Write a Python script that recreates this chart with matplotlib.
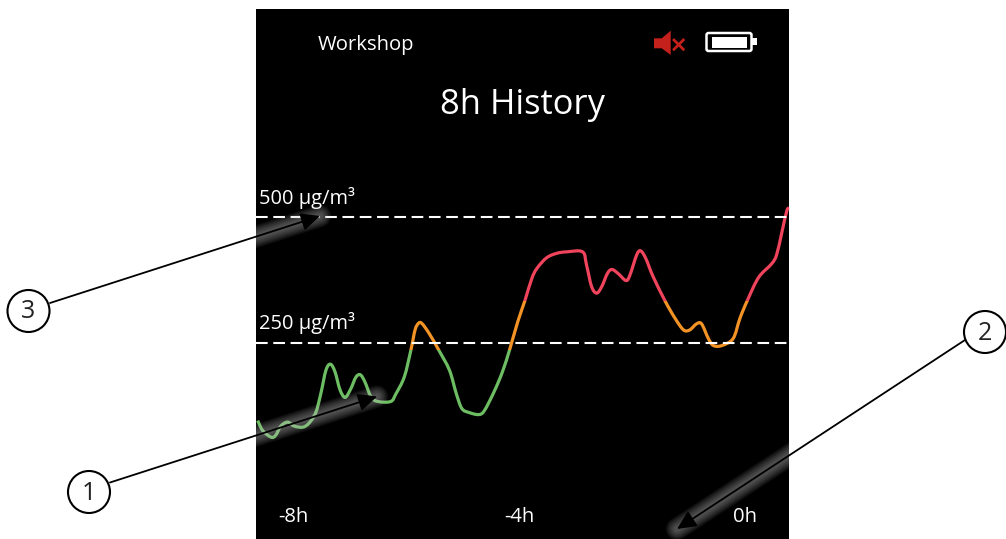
import matplotlib; matplotlib.use("Agg")
import matplotlib.pyplot as plt
from matplotlib.patches import Circle, Polygon, Rectangle, FancyBboxPatch, PathPatch
from matplotlib.path import Path

plt.rcParams["font.family"]=["Open Sans","DejaVu Sans"]

# pm level: hours before now, ug/m3
HOURS=[-8.64,-8.55,-8.40,-8.32,-8.23,-8.11,-7.99,-7.84,-7.73,-7.61,-7.52,-7.43,-7.35,-7.27,-7.18,-7.09,-6.99,-6.90,-6.82,-6.74,
       -6.63,-6.51,-6.28,-6.19,-6.04,-5.92,-5.85,-5.79,-5.73,-5.60,-5.43,-5.24,-5.12,-5.02,-4.89,-4.72,-4.62,-4.45,-4.30,-4.17,
       -4.03,-3.90,-3.78,-3.69,-3.52,-3.34,-3.16,-2.88,-2.81,-2.72,-2.63,-2.54,-2.44,-2.36,-2.25,-2.11,-2.04,-1.92,-1.85,-1.76,
       -1.63,-1.41,-1.24,-1.09,-0.98,-0.86,-0.77,-0.65,-0.56,-0.41,-0.21,-0.09,0.04,0.24,0.47,0.56,0.65,0.74,0.78]
LEVEL=[95,75,62,66,84,92,84,82,90,111,149,195,207,192,156,141,158,181,186,172,
       142,133,133,148,182,237,275,288,288,268,235,195,149,119,111,107,115,152,192,237,
       291,334,377,397,418,427,430,430,404,361,348,361,387,395,387,373,384,424,432,417,
       381,331,298,275,275,287,287,258,244,244,258,298,333,379,406,424,467,511,517]
REF_LEVELS=[500,250]
REF_LABELS=["500 µg/m³","250 µg/m³"]
TICK_HOURS=[-8,-4,0]
TICK_LABELS=["-8h","-4h","0h"]
BANDS=[(-200,236,"#6dbd62"),(236,332,"#f39325"),(332,1000,"#f0435c")]
# callouts: number, circle centre, arrow start, arrow tip (pixels of the slide)
CALLOUTS=[("1",(89,492),(110,482.5),(377,396.5)),
          ("2",(985,332),(965,340),(677,529)),
          ("3",(28.5,311),(50,303),(320,216))]

def smooth_path(xs,ys):
    # catmull-rom through the read points, as bezier segments
    verts=[(xs[0],ys[0])]; codes=[Path.MOVETO]
    n=len(xs)
    for i in range(n-1):
        p0=max(i-1,0); p3=min(i+2,n-1)
        verts+=[(xs[i]+(xs[i+1]-xs[p0])/6,ys[i]+(ys[i+1]-ys[p0])/6),
                (xs[i+1]-(xs[p3]-xs[i])/6,ys[i+1]-(ys[p3]-ys[i])/6),
                (xs[i+1],ys[i+1])]
        codes+=[Path.CURVE4]*3
    return Path(verts,codes)

W,H=1006,539
fig=plt.figure(figsize=(W/100,H/100),dpi=100,facecolor="white")
ax=fig.add_axes([256/W,0,533/W,530/H],facecolor="black")
ax.set_xlim(-8.67,0.78); ax.set_ylim(-140,912)
ax.set_xticks([]); ax.set_yticks([])
for s in ax.spines.values(): s.set_visible(False)

# same curve once per band, clipped to that band's level range
curve=smooth_path(HOURS,LEVEL)
for lo,hi,col in BANDS:
    pp=PathPatch(curve,fc="none",ec=col,lw=2.3,joinstyle="round",zorder=3)
    ax.add_patch(pp)
    pp.set_clip_path(Rectangle((-9,lo),11,hi-lo,transform=ax.transData))
for lev,lab in zip(REF_LEVELS,REF_LABELS):
    ax.axhline(lev,color="white",lw=1.5,ls=(0,(5.6,2.7)),zorder=4)
    ax.text(-8.62,lev+16,lab,color="white",fontsize=14.4,ha="left",va="bottom")
for h,lab in zip(TICK_HOURS,TICK_LABELS):
    ax.text(h,-96,lab,color="white",fontsize=14.6,ha="center",va="center")

# overlay in slide pixels for status bar and callouts
top=fig.add_axes([0,0,1,1]); top.set_xlim(0,W); top.set_ylim(H,0); top.axis("off")
top.patch.set_alpha(0)
top.text(366,45,"Workshop",color="white",fontsize=14.6,ha="center",va="center")
top.text(522.5,105,"8h History",color="white",fontsize=24.8,ha="center",va="center")

RED="#c4201c"
top.add_patch(Polygon([(654,38.3),(661.7,38.3),(670.7,30.7),(670.7,55),(661.7,48.3),(654,48.3)],fc=RED,ec="none"))
top.plot([674,683.3],[40,49.3],color=RED,lw=2); top.plot([674,683.3],[49.3,40],color=RED,lw=2)
top.add_patch(FancyBboxPatch((706.5,33),45,18,boxstyle="round,pad=0,rounding_size=2",fc="black",ec="white",lw=1.8))
top.add_patch(Rectangle((711.7,36.7),35,11,fc="white",ec="none"))
top.add_patch(Rectangle((752.3,38.3),5,6.7,fc="white",ec="none"))

panel=Rectangle((256,9),533,530,transform=top.transData)
for num,c,a,b in CALLOUTS:
    for lw in (16,14,12,10,8,6,4):
        g,=top.plot([a[0],b[0]],[a[1],b[1]],color="#c8c8c8",alpha=0.07,lw=lw,solid_capstyle="round",zorder=5)
        g.set_clip_path(panel)
    top.annotate("",xy=b,xytext=a,zorder=6,
        arrowprops=dict(arrowstyle="-|>,head_length=1.15,head_width=0.54",mutation_scale=10,color="black",lw=1.3,shrinkA=0,shrinkB=0))
    top.add_patch(Circle(c,21,fc="white",ec="black",lw=1.5,zorder=7))
    top.text(c[0],c[1]+1,num,color="#222222",fontsize=18,ha="center",va="center",zorder=8)

fig.savefig("out.png",dpi=100)
